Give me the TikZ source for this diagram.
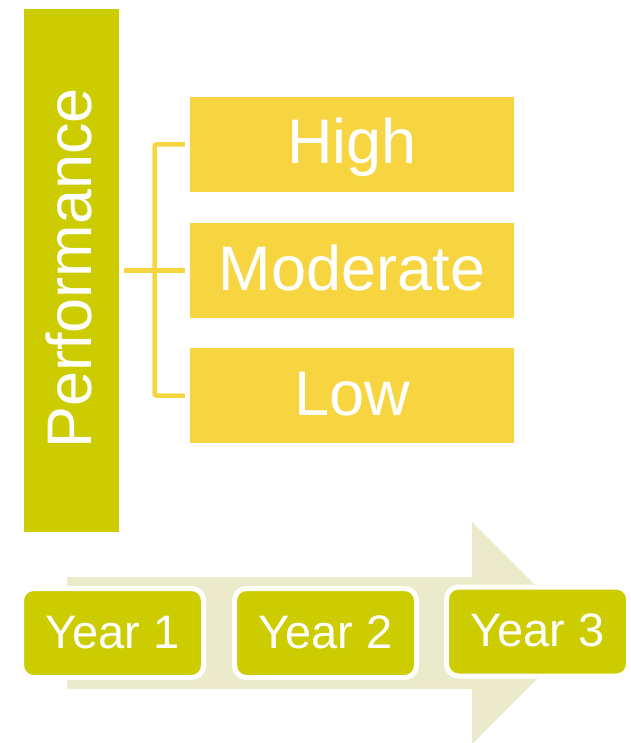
\documentclass[tikz,border=0pt]{standalone}
\usepackage{fontspec}
\setmainfont{Liberation Sans}
\definecolor{olive}{RGB}{204,204,0}
\definecolor{gold}{RGB}{246,213,64}
\definecolor{pale}{RGB}{235,235,204}
\begin{document}
\begin{tikzpicture}[x=1pt,y=-1pt,
  bar/.style={draw=none,fill=olive,minimum width=95pt,minimum height=523pt,inner sep=0pt},
  lvl/.style={draw=none,fill=gold,minimum width=324pt,minimum height=95pt,inner sep=0pt},
  big/.style={text=white,font=\fontsize{63}{70}\selectfont,inner sep=0pt},
  yearbox/.style={fill=olive,draw=white,line width=5pt,rounded corners=12pt,minimum width=182pt,minimum height=89pt,inner sep=0pt},
  yeartxt/.style={text=white,font=\fontsize{47}{54}\selectfont,inner sep=0pt},
  bracket/.style={draw=gold,line width=4.5pt}
]
\useasboundingbox (0,0) rectangle (630,743);
\clip (0,0) rectangle (630,743);
% timeline arrow
\fill[pale] (67,577) -- (472,577) -- (472,522) -- (583,633) -- (472,744) -- (472,689) -- (67,689) -- cycle;
% performance bar
\node[bar] (perf) at (71.5,270.5) {};
\node[big,rotate=90,anchor=base] (perftxt) at (91,268.5) {Performance};
% levels
\node[lvl] (high) at (352,144.5) {};
\node[lvl] (mod) at (352,270.5) {};
\node[lvl] (low) at (352,395.5) {};
\node[big,anchor=base] (hight) at (352,164) {High};
\node[big,anchor=base] (modt) at (352,290) {Moderate};
\node[big,anchor=base] (lowt) at (352,415) {Low};
% bracket
\coordinate (spine) at (154.5,270.5);
\draw[bracket] ([xshift=5pt]perf.east) -- ([xshift=-5pt]mod.west);
\draw[bracket,rounded corners=2pt] ([xshift=-5pt]high.west) -| (spine) |- ([xshift=-5pt]low.west);
% years
\node[yearbox] (y1) at (112.5,633) {};
\node[yearbox] (y2) at (325.5,633) {};
\node[yearbox] (y3) at (537.5,631.5) {};
\node[yeartxt,anchor=base] (y1t) at (y1.center |- 0,648) {Year 1};
\node[yeartxt,anchor=base] (y2t) at (y2.center |- 0,648) {Year 2};
\node[yeartxt,anchor=base] (y3t) at (y3.center |- 0,646) {Year 3};
\end{tikzpicture}
\end{document}
